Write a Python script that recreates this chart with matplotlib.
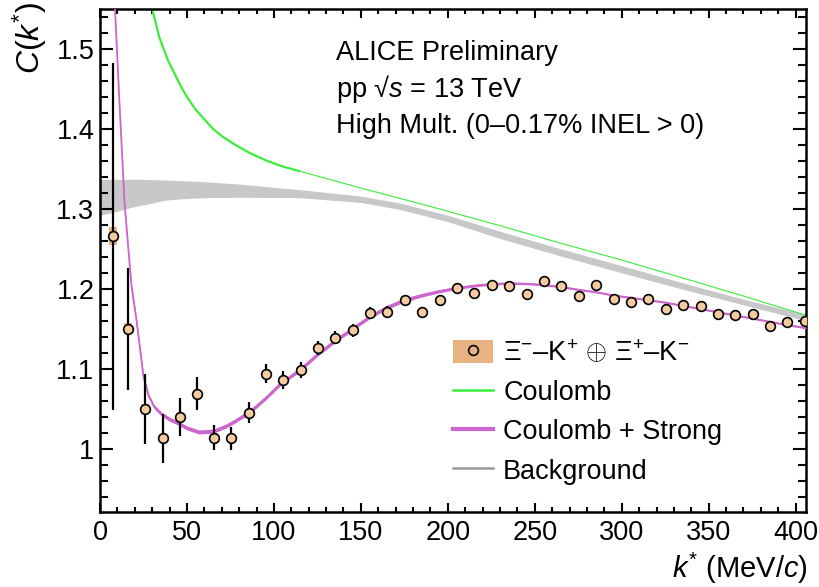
import matplotlib
matplotlib.use("Agg")
import matplotlib.pyplot as plt
from matplotlib.patches import Patch
from matplotlib.lines import Line2D
from matplotlib.ticker import MultipleLocator

plt.rcParams['font.family'] = ['Liberation Sans', 'DejaVu Sans']
plt.rcParams['mathtext.fontset'] = 'custom'
plt.rcParams['mathtext.rm'] = 'Liberation Sans'
plt.rcParams['mathtext.it'] = 'Liberation Sans:italic'
plt.rcParams['mathtext.bf'] = 'Liberation Sans:bold'

# ---------------- data ----------------
k_data = [7.5, 16, 26, 36, 45.8, 55.7, 65.6, 75.5, 85.4, 95.4, 105.3, 115.3, 125.3,
          135.3, 145.3, 155.3, 165.3, 175.3, 185.3, 195.3, 205.3, 215.3, 225.3, 235.3,
          245.3, 255.3, 265.3, 275.3, 285.3, 295.3, 305.3, 315.3, 325.3, 335.3, 345.3,
          355.3, 365.3, 375.3, 385.3, 395.3, 405.3]
c_data = [1.266, 1.150, 1.050, 1.013, 1.040, 1.069, 1.014, 1.013, 1.045, 1.094, 1.086,
          1.098, 1.126, 1.139, 1.148, 1.170, 1.171, 1.186, 1.171, 1.186, 1.201, 1.195,
          1.205, 1.204, 1.193, 1.210, 1.203, 1.191, 1.205, 1.187, 1.183, 1.187, 1.175,
          1.180, 1.179, 1.169, 1.167, 1.169, 1.154, 1.159, 1.160]
c_stat = [0.217, 0.076, 0.044, 0.031, 0.024, 0.021, 0.016, 0.014, 0.013, 0.012, 0.011,
          0.010, 0.009, 0.008, 0.008, 0.007, 0.007, 0.006, 0.006, 0.006, 0.005, 0.005,
          0.005, 0.005, 0.005, 0.005, 0.004, 0.004, 0.004, 0.004, 0.004, 0.004, 0.004,
          0.004, 0.004, 0.004, 0.004, 0.004, 0.004, 0.004, 0.004]
c_syst = [0.011, 0.007, 0.006, 0.005, 0.005, 0.005, 0.004, 0.004, 0.004, 0.004, 0.004,
          0.004, 0.004, 0.004, 0.004, 0.004, 0.004, 0.004, 0.004, 0.004, 0.004, 0.004,
          0.004, 0.004, 0.004, 0.004, 0.004, 0.004, 0.004, 0.004, 0.004, 0.004, 0.004,
          0.004, 0.004, 0.004, 0.004, 0.004, 0.004, 0.004, 0.004]

# Coulomb only (green)
k_coul = [29, 30, 34, 39, 42, 46, 50, 55, 60.4, 65, 70, 77, 86, 96, 105, 115]
c_coul = [1.56, 1.55, 1.515, 1.486, 1.473, 1.455, 1.44, 1.424, 1.411, 1.400, 1.391,
          1.381, 1.370, 1.360, 1.353, 1.347]
k_coul_hi = [115, 150, 190, 230, 265, 300, 336, 370, 406]
c_coul_hi = [1.347, 1.326, 1.303, 1.279, 1.257, 1.236, 1.213, 1.191, 1.167]

# Coulomb + Strong (magenta)
k_cs = [8, 8.6, 11, 14, 18, 21, 23, 25, 28, 31, 35, 40, 45, 50, 57, 65, 72, 77, 86,
        95, 104, 115, 125, 135, 145, 155, 165, 175, 185, 195, 205, 215, 225, 235, 245,
        255, 265, 275, 285, 295, 305, 315, 325, 335, 345, 355, 365, 375, 385, 395, 406]
c_cs = [1.58, 1.55, 1.44, 1.31, 1.205, 1.16, 1.125, 1.09, 1.066, 1.053, 1.044, 1.037,
        1.032, 1.026, 1.021, 1.022, 1.028, 1.034, 1.046, 1.063, 1.082, 1.099, 1.118,
        1.135, 1.150, 1.165, 1.177, 1.186, 1.192, 1.197, 1.201, 1.204, 1.206, 1.207,
        1.2065, 1.205, 1.2025, 1.199, 1.196, 1.192, 1.189, 1.186, 1.183, 1.179, 1.175,
        1.171, 1.167, 1.163, 1.159, 1.155, 1.151]
cs_halfwidth = [0.002, 0.002, 0.002, 0.002, 0.002, 0.0025, 0.0025, 0.0025, 0.0025, 0.0025,
                0.0025, 0.0025, 0.0025, 0.0025, 0.0025, 0.0025, 0.0025, 0.0025, 0.0025,
                0.0025, 0.0025, 0.0025, 0.0025, 0.0025, 0.0025, 0.0025, 0.0025, 0.0025,
                0.0022, 0.002, 0.0018, 0.0016, 0.0015, 0.0014, 0.0013, 0.0012, 0.0011,
                0.001, 0.001, 0.001, 0.001, 0.001, 0.001, 0.001, 0.001, 0.001, 0.001,
                0.001, 0.001, 0.001, 0.001]

# Background band (grey)
k_bg = [0, 10, 19, 25, 38, 50, 60, 80, 115, 150, 173, 200, 230, 265, 300, 336, 370, 406]
bg_high = [1.337, 1.337, 1.337, 1.337, 1.336, 1.335, 1.334, 1.331, 1.324, 1.316, 1.307,
           1.292, 1.272, 1.250, 1.229, 1.207, 1.187, 1.168]
bg_low = [1.292, 1.297, 1.3025, 1.305, 1.311, 1.313, 1.314, 1.3145, 1.314, 1.308, 1.299,
          1.284, 1.263, 1.241, 1.220, 1.199, 1.180, 1.160]

x_ticks = [0, 50, 100, 150, 200, 250, 300, 350, 400]
y_ticks = [1.0, 1.1, 1.2, 1.3, 1.4, 1.5]
y_ticklabels = ['1', '1.1', '1.2', '1.3', '1.4', '1.5']

header = ['ALICE Preliminary', 'pp \u221a$s$ = 13 TeV', 'High Mult. (0\u20130.17% INEL > 0)']
leg_labels = ['$\\Xi^{-}$\u2013K$^{+}$ $\\oplus$ $\\Xi^{+}$\u2013K$^{-}$', 'Coulomb',
              'Coulomb + Strong', 'Background']

# ---------------- colours ----------------
col_green = '#3aee3a'
col_mag = '#cc66cc'
col_bg = '#c8c8c8'
col_box = '#e8b283'
col_marker = '#f4caa0'

fig = plt.figure(figsize=(8.2, 5.87), dpi=100)
ax = fig.add_axes([0.122, 0.1278, 0.861, 0.857])

ax.fill_between(k_bg, bg_low, bg_high, color=col_bg, lw=0, zorder=1)
ax.plot(k_coul, c_coul, color=col_green, lw=1.6, zorder=2, solid_capstyle='butt')
ax.plot(k_coul_hi, c_coul_hi, color=col_green, lw=0.8, zorder=2)
lo = [c - w for c, w in zip(c_cs, cs_halfwidth)]
hi = [c + w for c, w in zip(c_cs, cs_halfwidth)]
ax.fill_between(k_cs, lo, hi, color=col_mag, lw=0, zorder=3)
ax.plot(k_cs, c_cs, color=col_mag, lw=1.3, zorder=3)

ax.bar(k_data, [2 * s for s in c_syst], bottom=[c - s for c, s in zip(c_data, c_syst)],
       width=4.6, color=col_box, lw=0, zorder=4)
ax.errorbar(k_data, c_data, yerr=c_stat, fmt='none', ecolor='black', elinewidth=1.6,
            capsize=0, zorder=5)
ax.plot(k_data, c_data, ls='none', marker='o', ms=7, mfc=col_marker, mec='black',
        mew=1.2, zorder=6, clip_on=True)

ax.set_xlim(0, 406)
ax.set_ylim(0.921, 1.55)

ax.set_xticks(x_ticks)
ax.set_yticks(y_ticks)
ax.set_yticklabels(y_ticklabels)
ax.xaxis.set_minor_locator(MultipleLocator(10))
ax.yaxis.set_minor_locator(MultipleLocator(0.02))
ax.tick_params(axis='both', which='both', direction='in', top=True, right=True,
               labelsize=19.5, width=1.5, color='black')
ax.tick_params(axis='x', which='major', length=6.5, pad=6)
ax.tick_params(axis='x', which='minor', length=3.5)
ax.tick_params(axis='y', which='major', length=9.5, pad=4)
ax.tick_params(axis='y', which='minor', length=5.5)
for sp in ax.spines.values():
    sp.set_linewidth(1.8)

ax.set_ylabel(r'$C$($k^{*}$)', fontsize=23, loc='top')
ax.yaxis.set_label_coords(-0.072, 1.014)
ax.set_xlabel(r'$k^{*}$ (MeV/$c$)', fontsize=21, loc='right')
ax.xaxis.set_label_coords(1.003, -0.078)

for txt, yy in zip(header, [0.8986, 0.825, 0.7535]):
    ax.text(0.334, yy, txt, transform=ax.transAxes, fontsize=19.5, va='baseline', ha='left')

h_data = (Patch(facecolor=col_box, edgecolor='none'),
          Line2D([], [], ls='none', marker='o', ms=7, mfc='none', mec='black', mew=1.2))
h_coul = Line2D([], [], color=col_green, lw=1.8)
h_cs = Line2D([], [], color=col_mag, lw=3)
h_bg = Line2D([], [], color='#999999', lw=1.8)
leg = ax.legend([h_data, h_coul, h_cs, h_bg], leg_labels, loc='upper left',
                bbox_to_anchor=(0.500, 0.343), frameon=False, fontsize=19.5,
                handlelength=1.48, handleheight=0.93, handletextpad=0.37,
                labelspacing=0.46, borderpad=0, borderaxespad=0)

fig.savefig('out.png', dpi=100)
